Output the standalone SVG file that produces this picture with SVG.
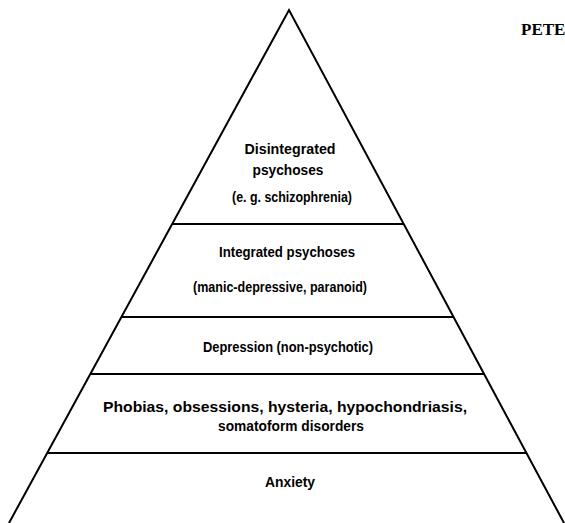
<svg xmlns="http://www.w3.org/2000/svg" width="565" height="523" viewBox="0 0 565 523">
<style>
.ln{stroke:#000;stroke-width:2;fill:none;stroke-linejoin:miter}
.t{font-family:"Liberation Sans",Arial,sans-serif;font-size:15px;font-weight:bold;fill:#000;text-anchor:middle}
.h{font-family:"Liberation Serif","Times New Roman",serif;font-size:17px;font-weight:bold;fill:#000}
</style>
<rect width="565" height="523" fill="#fff"/>
<g id="connectors">
<path class="ln" d="M9,523 L289,10 L564,523"/>
</g>
<g id="level-disintegrated">
<line class="ln" x1="173" y1="224" x2="403" y2="224"/>
<text class="t" x="290" y="154" textLength="91" lengthAdjust="spacingAndGlyphs">Disintegrated</text>
<text class="t" x="288" y="175" textLength="71" lengthAdjust="spacingAndGlyphs">psychoses</text>
<text class="t" x="292" y="202" textLength="120" lengthAdjust="spacingAndGlyphs">(e. g. schizophrenia)</text>
</g>
<g id="level-integrated">
<line class="ln" x1="122" y1="317" x2="454" y2="317"/>
<text class="t" x="287" y="257" textLength="136" lengthAdjust="spacingAndGlyphs">Integrated psychoses</text>
<text class="t" x="280" y="292" textLength="174" lengthAdjust="spacingAndGlyphs">(manic-depressive, paranoid)</text>
</g>
<g id="level-depression">
<line class="ln" x1="91" y1="374" x2="484" y2="374"/>
<text class="t" x="288" y="352" textLength="170" lengthAdjust="spacingAndGlyphs">Depression (non-psychotic)</text>
</g>
<g id="level-neuroses">
<line class="ln" x1="47" y1="453" x2="526" y2="453"/>
<text class="t" x="285" y="412" textLength="364" lengthAdjust="spacingAndGlyphs">Phobias, obsessions, hysteria, hypochondriasis,</text>
<text class="t" x="291" y="431" textLength="146" lengthAdjust="spacingAndGlyphs">somatoform disorders</text>
</g>
<g id="level-anxiety">
<text class="t" x="290" y="487" textLength="50" lengthAdjust="spacingAndGlyphs">Anxiety</text>
</g>
<text class="h" x="521" y="35">PETE</text>
</svg>
